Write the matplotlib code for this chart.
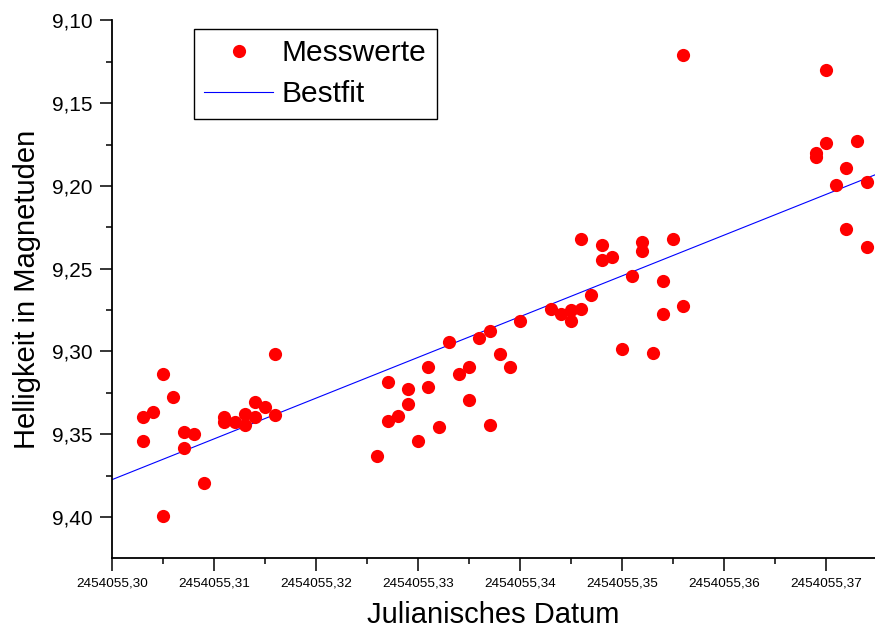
import matplotlib
matplotlib.use("Agg")
import matplotlib.pyplot as plt
from matplotlib.ticker import FuncFormatter, MultipleLocator

plt.rcParams['font.family'] = ['Liberation Sans', 'DejaVu Sans']

# Julian date offsets (added to base) and magnitudes
jd_base = 2454055.0
jd_frac = [
    0.303, 0.303, 0.304, 0.305, 0.305, 0.306, 0.307, 0.307, 0.308, 0.309,
    0.311, 0.311, 0.312, 0.313, 0.313, 0.314, 0.314, 0.315, 0.316, 0.316,
    0.326, 0.327, 0.327, 0.328, 0.329, 0.329, 0.330, 0.331, 0.331, 0.332,
    0.333, 0.334, 0.335, 0.335, 0.336, 0.337, 0.337, 0.338, 0.339, 0.340,
    0.343, 0.344, 0.345, 0.345, 0.346, 0.346, 0.347, 0.348, 0.348, 0.349,
    0.350, 0.351, 0.352, 0.352, 0.353, 0.354, 0.354, 0.355, 0.356, 0.356,
    0.369, 0.369, 0.370, 0.370, 0.371, 0.372, 0.372, 0.373, 0.374, 0.374,
]
magnitude = [
    9.3395, 9.3544, 9.3365, 9.3134, 9.3993, 9.3274, 9.3486, 9.3585, 9.3496, 9.3792,
    9.3395, 9.3425, 9.3425, 9.3375, 9.3442, 9.3305, 9.3395, 9.3335, 9.3385, 9.3015,
    9.3633, 9.3184, 9.3423, 9.3387, 9.3224, 9.3317, 9.3542, 9.3093, 9.3216, 9.3454,
    9.2945, 9.3136, 9.3096, 9.3295, 9.2918, 9.2876, 9.3443, 9.3015, 9.3093, 9.2818,
    9.2743, 9.2776, 9.2752, 9.2818, 9.2743, 9.2319, 9.2657, 9.2357, 9.2450, 9.2428,
    9.2987, 9.2546, 9.2337, 9.2391, 9.3007, 9.2577, 9.2773, 9.2319, 9.1210, 9.2727,
    9.1802, 9.1822, 9.1299, 9.1739, 9.1997, 9.1889, 9.2259, 9.1729, 9.1979, 9.2367,
]

# Best-fit line endpoints
fit_frac = [0.300, 0.3748]
fit_mag = [9.3774, 9.1933]

x_ticks_frac = [0.30, 0.31, 0.32, 0.33, 0.34, 0.35, 0.36, 0.37]
y_ticks = [9.10, 9.15, 9.20, 9.25, 9.30, 9.35, 9.40]

jd = [jd_base + f for f in jd_frac]
fit_x = [jd_base + f for f in fit_frac]

fig = plt.figure(figsize=(8.75, 6.32), dpi=100)
ax = fig.add_axes([0.1283, 0.1171, 0.8717, 0.8505])

ax.plot(jd, magnitude, 'o', color='#ff0000', markersize=9.5, markeredgewidth=0,
        label='Messwerte', zorder=3)
ax.plot(fit_x, fit_mag, '-', color='#0000ff', linewidth=0.8, label='Bestfit', zorder=2)

ax.set_xlim(jd_base + 0.300, jd_base + 0.37481)
ax.set_ylim(9.4248, 9.10)

ax.set_xticks([jd_base + f for f in x_ticks_frac])
ax.xaxis.set_minor_locator(MultipleLocator(0.005))
ax.set_yticks(y_ticks)
ax.yaxis.set_minor_locator(MultipleLocator(0.025))

ax.xaxis.set_major_formatter(FuncFormatter(lambda v, p: f"{v:.2f}".replace('.', ',')))
ax.yaxis.set_major_formatter(FuncFormatter(lambda v, p: f"{v:.2f}".replace('.', ',')))

for s in ['top', 'right']:
    ax.spines[s].set_visible(False)
for s in ['left', 'bottom']:
    ax.spines[s].set_linewidth(1.3)

ax.tick_params(axis='both', which='major', direction='out', length=9, width=1.1)
ax.tick_params(axis='both', which='minor', direction='out', length=4.5, width=1.1)
ax.tick_params(axis='x', labelsize=9.7, pad=5)
ax.tick_params(axis='y', labelsize=15, pad=5)

ax.set_xlabel('Julianisches Datum', fontsize=21, labelpad=8)
ax.set_ylabel('Helligkeit in Magnetuden', fontsize=21, labelpad=8)

leg = ax.legend(loc='upper left', bbox_to_anchor=(0.107, 0.985), fontsize=21.5,
                frameon=True, fancybox=False, edgecolor='black', framealpha=1,
                handlelength=2.3, handletextpad=0.3, borderpad=0.35,
                labelspacing=0.45, borderaxespad=0)
leg.get_frame().set_linewidth(1.0)

fig.savefig('out.png', dpi=100)
